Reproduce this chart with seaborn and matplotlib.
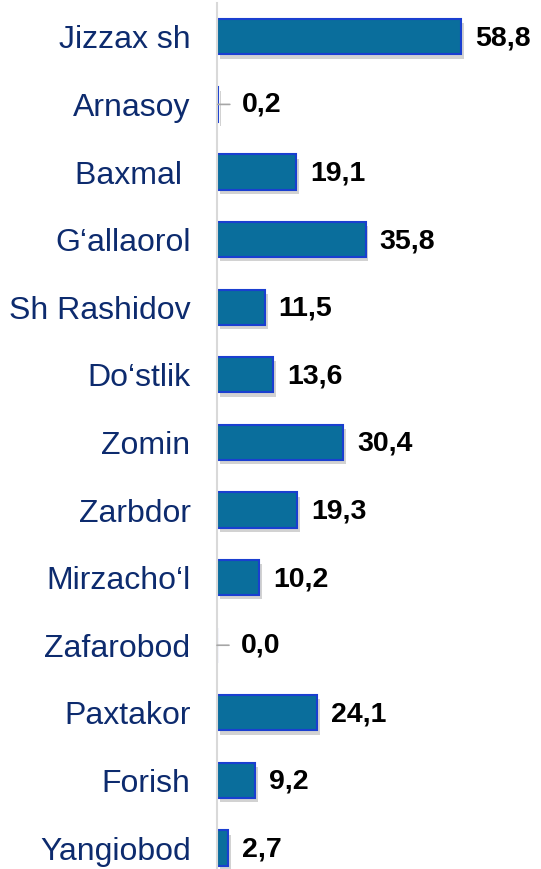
import matplotlib
matplotlib.use("Agg")
import matplotlib.pyplot as plt
import matplotlib.patheffects as pe
import seaborn as sns
import pandas as pd

categories = ["Jizzax sh", "Arnasoy", "Baxmal ", "G\u2018allaorol", "Sh Rashidov",
              "Do\u2018stlik", "Zomin", "Zarbdor", "Mirzacho\u2018l", "Zafarobod",
              "Paxtakor", "Forish", "Yangiobod"]
values = [58.8, 0.2, 19.1, 35.8, 11.5, 13.6, 30.4, 19.3, 10.2, 0.0, 24.1, 9.2, 2.7]
value_labels = ["58,8", "0,2", "19,1", "35,8", "11,5", "13,6", "30,4", "19,3",
                "10,2", "0,0", "24,1", "9,2", "2,7"]

sns.set_style("white")
plt.rcParams['font.family'] = ['Liberation Sans', 'DejaVu Sans']

df = pd.DataFrame({"cat": categories, "val": values})

fig = plt.figure(figsize=(5.41, 8.69), dpi=100)
ax = fig.add_axes([217/541, 0, 1 - 217/541, 866/869])

sns.barplot(data=df, y="cat", x="val", orient="h", ax=ax, width=0.52,
            color="#0a6e9c", saturation=1, edgecolor="#1a3fd0", linewidth=1.5)

for p in ax.patches:
    p.set_path_effects([pe.SimplePatchShadow(offset=(2, -3), shadow_rgbFace="#7f7f7f", alpha=0.35),
                        pe.Normal()])

ax.set_xlim(0, 78.07)
ax.set_ylim(12.31, -0.5)
ax.set_xlabel("")
ax.set_ylabel("")
ax.set_xticks([])

for s in ["top", "right", "bottom"]:
    ax.spines[s].set_visible(False)
ax.spines["left"].set_color("#d9d9d9")
ax.spines["left"].set_linewidth(1.5)

ax.tick_params(axis="y", length=0, pad=19, labelsize=23, labelcolor="#0d2b6e")

for i, (v, lab) in enumerate(zip(values, value_labels)):
    if v < 1:
        ax.annotate(lab, xy=(v, i), xytext=(17, 0), textcoords="offset points",
                    ha="left", va="center", fontsize=20.5, fontweight="bold", color="black",
                    arrowprops=dict(arrowstyle="-", color="#a6a6a6", lw=1.2,
                                    shrinkA=6, shrinkB=0))
    else:
        ax.annotate(lab, xy=(v, i), xytext=(10, -1), textcoords="offset points",
                    ha="left", va="center", fontsize=20.5, fontweight="bold", color="black")

fig.savefig("out.png", dpi=100)
